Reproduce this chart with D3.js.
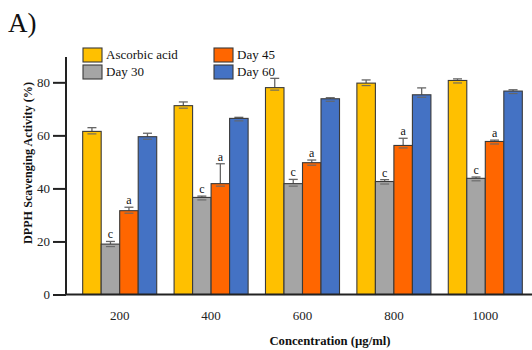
<!DOCTYPE html>
<html><head><meta charset="utf-8">
<script src="https://cdn.jsdelivr.net/npm/d3@7"></script>
<style>body{margin:0;background:#fff}svg{display:block}</style>
</head><body>
<script>
const categories = ["200","400","600","800","1000"];
const seriesNames = ["Ascorbic acid","Day 30","Day 45","Day 60"];
const ascorbic = [61.5, 71.2, 78.0, 79.7, 80.7];
const day30 = [19.0, 36.6, 41.8, 42.6, 43.8];
const day45 = [31.6, 41.8, 49.7, 56.2, 57.7];
const day60 = [59.5, 66.4, 73.8, 75.3, 76.7];
const errAscorbic = [1.4, 1.4, 3.5, 1.2, 0.6];
const err30 = [1.0, 0.5, 1.6, 0.7, 0.5];
const err45 = [1.3, 7.5, 1.0, 2.7, 0.5];
const err60 = [1.3, 0.4, 0.4, 2.6, 0.5];
const letters = ["", "c", "a", ""];
const yTicks = [0, 20, 40, 60, 80];
const colors = ["#FFC000","#A5A5A5","#FF6600","#4472C4"];

const values = [ascorbic, day30, day45, day60];
const errs = [errAscorbic, err30, err45, err60];

const W = 532, H = 350;
const svg = d3.select("body").append("svg").attr("width", W).attr("height", H);
const font = "'Liberation Serif','Times New Roman',serif";

const y = d3.scaleLinear().domain([0, 90]).range([294.5, 55.8]);
const x0 = d3.scaleBand().domain(categories).range([74, 531]).paddingInner(0.19).paddingOuter(0.095);
const x1 = d3.scaleBand().domain(seriesNames).range([0, x0.bandwidth()]);

// bars
const g = svg.append("g");
categories.forEach((c, i) => {
  seriesNames.forEach((s, j) => {
    const v = values[j][i], e = errs[j][i];
    const bx = x0(c) + x1(s), bw = x1.bandwidth();
    const cx = bx + bw / 2;
    g.append("line").attr("x1", cx).attr("x2", cx).attr("y1", y(v)).attr("y2", y(v + e))
      .attr("stroke", "#666").attr("stroke-width", 1.3);
    g.append("line").attr("x1", cx - 4.5).attr("x2", cx + 4.5).attr("y1", y(v + e)).attr("y2", y(v + e))
      .attr("stroke", "#666").attr("stroke-width", 1.3);
    g.append("rect").attr("x", bx).attr("y", y(v)).attr("width", bw).attr("height", y(0) - y(v))
      .attr("fill", colors[j]).attr("stroke", "#3a3a3a").attr("stroke-width", 1.1);
    g.append("line").attr("x1", cx - 4.5).attr("x2", cx + 4.5).attr("y1", y(v) + 2.5).attr("y2", y(v) + 2.5)
      .attr("stroke", "#666").attr("stroke-width", 1.1);
    if (letters[j]) {
      g.append("text").attr("x", cx).attr("y", y(v + e) - 3).attr("text-anchor", "middle")
        .attr("font-family", font).attr("font-size", 12).attr("fill", "#111").text(letters[j]);
    }
  });
});

// y axis
const yAxis = svg.append("g").attr("transform", "translate(66,0)")
  .call(d3.axisLeft(y).tickValues(yTicks).tickSize(13).tickPadding(3));
yAxis.select(".domain").attr("d", `M0,${y(0)}V57`).attr("stroke", "#222").attr("stroke-width", 2);
yAxis.selectAll(".tick line").attr("stroke", "#222").attr("stroke-width", 2);
yAxis.selectAll(".tick text").attr("font-family", font).attr("font-size", 13).attr("fill", "#222");

// x axis
const xAxis = svg.append("g").attr("transform", `translate(0,${y(0)})`)
  .call(d3.axisBottom(x0).tickSize(0).tickPadding(16));
xAxis.select(".domain").attr("d", `M65,0H532`).attr("stroke", "#222").attr("stroke-width", 2);
xAxis.selectAll(".tick text").attr("font-family", font).attr("font-size", 13).attr("fill", "#222");

// axis titles
svg.append("text").attr("transform", "translate(32,163) rotate(-90)").attr("text-anchor", "middle")
  .attr("font-family", font).attr("font-weight", "bold").attr("font-size", 12.2).attr("fill", "#111")
  .text("DPPH Scavenging Activity (%)");
svg.append("text").attr("x", 330).attr("y", 345).attr("text-anchor", "middle")
  .attr("font-family", font).attr("font-weight", "bold").attr("font-size", 12.7).attr("fill", "#111")
  .text("Concentration (µg/ml)");

// panel label
svg.append("text").attr("x", 8).attr("y", 32).attr("font-family", font).attr("font-size", 27)
  .attr("fill", "#111").text("A)");

// legend
const legendOrder = [[0, 0, 0], [2, 1, 0], [1, 0, 1], [3, 1, 1]];
legendOrder.forEach(([j, col, row]) => {
  const lx = 83 + col * 131, ly = 48 + row * 17;
  svg.append("rect").attr("x", lx).attr("y", ly).attr("width", 19).attr("height", 14)
    .attr("fill", colors[j]).attr("stroke", "#3a3a3a").attr("stroke-width", 1.1);
  svg.append("text").attr("x", lx + 23).attr("y", ly + 11).attr("font-family", font)
    .attr("font-size", 13).attr("fill", "#111").text(seriesNames[j]);
});
</script>
</body></html>
